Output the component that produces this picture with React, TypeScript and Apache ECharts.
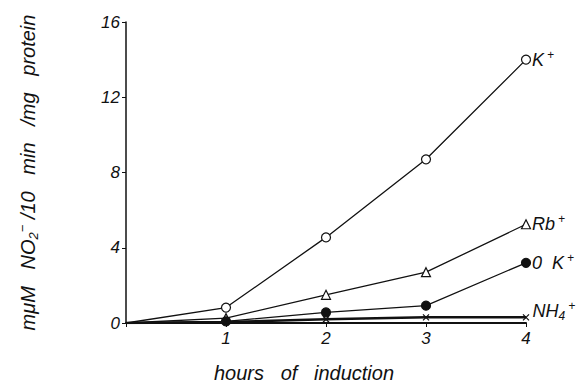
import React, { useEffect, useRef } from "react";
import * as echarts from "echarts";

const hours = [0, 1, 2, 3, 4];
const kPlus = [0, 0.82, 4.55, 8.7, 14];
const rbPlus = [0, 0.26, 1.5, 2.7, 5.25];
const zeroK = [0, 0.09, 0.56, 0.92, 3.2];
const nh4 = [0, 0.05, 0.2, 0.3, 0.3];
const endLabels = ["{m|K}{p|+}", "{m|Rb}{p|+}", "{m|0  K}{p|+}", "{m|NH}{b|4}{p|+}"];

const FONT = "'Liberation Sans', 'DejaVu Sans', sans-serif";

const rich = {
  m: { fontSize: 18, fontStyle: "italic", fontFamily: FONT, color: "#111", lineHeight: 22, verticalAlign: "middle" },
  p: { fontSize: 12, fontStyle: "italic", fontFamily: FONT, color: "#111", lineHeight: 22, verticalAlign: "top", padding: [0, 0, 0, 3] },
  b: { fontSize: 12, fontStyle: "italic", fontFamily: FONT, color: "#111", lineHeight: 22, verticalAlign: "bottom", padding: [6, 0, 0, 0] },
};

function mkData(vals: number[]) {
  return hours.map((h, i) => (i === 0 ? { value: [h, vals[i]], symbol: "none" } : { value: [h, vals[i]] }));
}

export default function App() {
  const ref = useRef<HTMLDivElement>(null);
  useEffect(() => {
    if (!ref.current) return;
    const chart = echarts.init(ref.current, undefined, { renderer: "svg" });
    const mkSeries = (vals: number[], idx: number, symbol: string, fill: string, size: number, width: number, offset: number[]) => ({
      type: "line",
      data: mkData(vals),
      symbol,
      symbolSize: size,
      showSymbol: true,
      lineStyle: { color: "#111", width },
      itemStyle: { color: fill, borderColor: "#111", borderWidth: 1.2 },
      label: {
        show: true,
        position: "right",
        distance: 1,
        offset,
        rich,
        formatter: (p: any) => (p.dataIndex === hours.length - 1 ? endLabels[idx] : ""),
      },
      z: 3 + idx,
    });
    chart.setOption({
      animation: false,
      backgroundColor: "#fff",
      grid: { left: 101, right: 58, top: 14, bottom: 58 },
      xAxis: {
        type: "value",
        min: 0,
        max: 4,
        interval: 1,
        name: "hours   of   induction",
        nameLocation: "middle",
        nameGap: 40,
        nameTextStyle: { fontSize: 20, fontStyle: "italic", fontFamily: FONT, color: "#111", padding: [0, 44, 0, 0] },
        axisLine: { show: true, lineStyle: { color: "#111", width: 2 } },
        axisTick: { show: true, length: 4, lineStyle: { color: "#111" } },
        axisLabel: {
          fontSize: 17,
          fontStyle: "italic",
          fontFamily: FONT,
          color: "#111",
          margin: 7,
          formatter: (v: number) => (v === 0 ? "" : String(v)),
        },
        splitLine: { show: false },
      },
      yAxis: {
        type: "value",
        min: 0,
        max: 16,
        interval: 4,
        name: "{t|mμM   NO}{s|2}{u|−}{t| /10   min   /mg   protein}",
        nameLocation: "middle",
        nameGap: 86,
        nameTextStyle: {
          rich: {
            t: { fontSize: 20, fontStyle: "italic", fontFamily: FONT, color: "#111", lineHeight: 24 },
            s: { fontSize: 13, fontStyle: "italic", fontFamily: FONT, color: "#111", lineHeight: 24, verticalAlign: "bottom" },
            u: { fontSize: 13, fontStyle: "italic", fontFamily: FONT, color: "#111", lineHeight: 24, verticalAlign: "top" },
          },
        },
        axisLine: { show: true, lineStyle: { color: "#111", width: 1.5 } },
        axisTick: { show: true, length: 4, lineStyle: { color: "#111" } },
        axisLabel: { fontSize: 17, fontStyle: "italic", fontFamily: FONT, color: "#111", margin: 6 },
        splitLine: { show: false },
      },
      series: [
        mkSeries(kPlus, 0, "circle", "#fff", 9, 1.3, [0, 0]),
        mkSeries(rbPlus, 1, "triangle", "#fff", 9, 1.3, [0, 0]),
        mkSeries(zeroK, 2, "circle", "#111", 9, 1.3, [0, 0]),
        mkSeries(nh4, 3, "path://M0,0L10,10M10,0L0,10", "#111", 6, 2.5, [2, -6]),
      ],
    });
    return () => chart.dispose();
  }, []);
  return <div ref={ref} style={{ width: 576, height: 380 }} />;
}
